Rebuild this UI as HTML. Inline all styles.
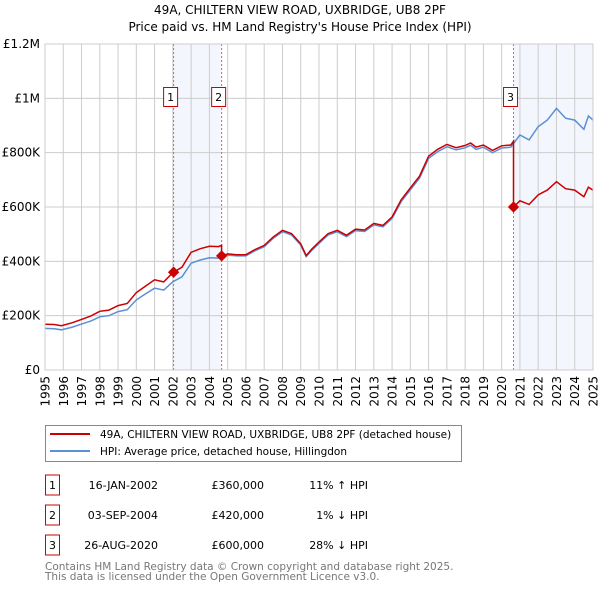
<!DOCTYPE html>
<html><head><meta charset="utf-8"><style>
body{margin:0;background:#fff;width:600px;height:590px;overflow:hidden;font-family:"DejaVu Sans","Liberation Sans",sans-serif;}
svg text{font-family:"DejaVu Sans","Liberation Sans",sans-serif;}
</style></head><body>
<svg id="chart" width="600" height="590" xmlns="http://www.w3.org/2000/svg">
<text x="300" y="14" text-anchor="middle" font-size="12" fill="#000">49A, CHILTERN VIEW ROAD, UXBRIDGE, UB8 2PF</text>
<text x="300" y="31" text-anchor="middle" font-size="12" fill="#000">Price paid vs. HM Land Registry's House Price Index (HPI)</text>
<g id="plot"></g>
<g>
<rect x="45.5" y="425.5" width="416" height="36" fill="#fff" stroke="#888"/>
<line x1="50" y1="434" x2="90" y2="434" stroke="#cc0000" stroke-width="2"/>
<text x="100" y="438" font-size="10.5">49A, CHILTERN VIEW ROAD, UXBRIDGE, UB8 2PF (detached house)</text>
<line x1="50" y1="451" x2="90" y2="451" stroke="#5b8fd6" stroke-width="2"/>
<text x="100" y="455" font-size="10.5">HPI: Average price, detached house, Hillingdon</text>
</g>
<g id="table" font-size="11"></g>
<text x="45" y="570" font-size="10.5" fill="#777">Contains HM Land Registry data © Crown copyright and database right 2025.</text>
<text x="45" y="580" font-size="10.5" fill="#777">This data is licensed under the Open Government Licence v3.0.</text>
</svg>
<script>
const hpiDates=[1995,1995.5,1995.9,1996.5,1997,1997.5,1998,1998.5,1999,1999.5,2000,2000.5,2001,2001.5,2002,2002.5,2003,2003.5,2004,2004.5,2005,2005.5,2006,2006.5,2007,2007.5,2008,2008.5,2009,2009.3,2009.6,2010,2010.5,2011,2011.5,2012,2012.5,2013,2013.5,2014,2014.5,2015,2015.5,2016,2016.5,2017,2017.5,2018,2018.3,2018.6,2019,2019.5,2020,2020.5,2021,2021.5,2022,2022.5,2023,2023.5,2024,2024.5,2024.75,2025];
const hpiValues=[153,152,148,158,169,180,196,200,215,222,258,280,301,294,325,343,393,405,413,412,423,420,420,439,454,485,509,497,460,417,440,466,497,509,491,513,510,534,527,558,620,663,706,779,804,822,810,818,827,812,820,800,817,820,865,847,896,920,963,927,920,886,935,920];
const saleDates=[2002.04,2004.67,2020.65];
const salePrices=[360,420,600];
const saleLabels=["16-JAN-2002","03-SEP-2004","26-AUG-2020"];
const salePriceText=["£360,000","£420,000","£600,000"];
const saleHpiText=["11% ↑ HPI","1% ↓ HPI","28% ↓ HPI"];
const yTicks=[0,200,400,600,800,1000,1200];
const yTickLabels=["£0","£200K","£400K","£600K","£800K","£1M","£1.2M"];
const xYears=[1995,1996,1997,1998,1999,2000,2001,2002,2003,2004,2005,2006,2007,2008,2009,2010,2011,2012,2013,2014,2015,2016,2017,2018,2019,2020,2021,2022,2023,2024,2025];

const NS="http://www.w3.org/2000/svg";
const X0=45,X1=593,Y0=370,Y1=44;
const xs=t=>X0+(t-1995)/30*(X1-X0);
const ys=v=>Y0-v/1200*(Y0-Y1);
const plot=document.getElementById('plot');
function mk(tag,attrs,parent){const e=document.createElementNS(NS,tag);for(const k in attrs)e.setAttribute(k,attrs[k]);(parent||plot).appendChild(e);return e;}
function hpiAt(t){for(let i=1;i<hpiDates.length;i++){if(t<=hpiDates[i]){const a=hpiDates[i-1],b=hpiDates[i];return hpiValues[i-1]+(hpiValues[i]-hpiValues[i-1])*(t-a)/(b-a);}}return hpiValues[hpiValues.length-1];}

const shadeStarts=[saleDates[0],saleDates[2]];
const shadeEnds=[saleDates[1],2025];
for(let i=0;i<shadeStarts.length;i++){
 const r=mk('rect',{x:xs(shadeStarts[i]),y:Y1,width:xs(shadeEnds[i])-xs(shadeStarts[i]),height:Y0-Y1,fill:'#f3f6fd'});
 
 
}
yTicks.forEach((v,i)=>{
 const l=mk('line',{x1:X0,x2:X1,y1:ys(v),y2:ys(v),stroke:'#ccc','stroke-width':1});
 
 
 const t=mk('text',{x:40,y:ys(v)+4,'text-anchor':'end','font-size':12});
 
 
 t.textContent=yTickLabels[i];
});
xYears.forEach(yr=>{
 const l=mk('line',{x1:xs(yr),x2:xs(yr),y1:Y1,y2:Y0,stroke:'#ccc','stroke-width':1});
 
 
 const t=mk('text',{x:0,y:0,'text-anchor':'end','font-size':12,transform:`translate(${xs(yr)+4.5},376) rotate(-90)`});
 
 
 t.textContent=yr;
});
saleDates.forEach((d,i)=>{
 const l=mk('line',{x1:xs(d),x2:xs(d),y1:Y1,y2:Y0,stroke:'#e06060','stroke-width':1,'stroke-dasharray':'2,2'});
 
 
});
const hp=hpiDates.map((d,i)=>xs(d).toFixed(1)+','+ys(hpiValues[i]).toFixed(1)).join(' ');
const hl=mk('polyline',{points:hp,fill:'none',stroke:'#5b8fd6','stroke-width':1.5});


const ratios=saleDates.map((d,i)=>salePrices[i]/hpiAt(d));
const pts=[];
let si=0;
hpiDates.forEach((d,i)=>{
 while(si<saleDates.length&&saleDates[si]<=d){
  const sd=saleDates[si];
  if(si>0)pts.push([sd,hpiAt(sd)*ratios[si-1]]);
  pts.push([sd,salePrices[si]]);
  si++;
 }
 const r=ratios[Math.max(0,si-1)];
 pts.push([d,hpiValues[i]*r]);
});
const pl=mk('polyline',{points:pts.map(p=>xs(p[0]).toFixed(1)+','+ys(p[1]).toFixed(1)).join(' '),fill:'none',stroke:'#cc0000','stroke-width':1.5});


saleDates.forEach((d,i)=>{
 const x=xs(d),y=ys(salePrices[i]);
 const m=mk('rect',{x:x-4,y:y-4,width:8,height:8,fill:'#cc0000',transform:`rotate(45 ${x} ${y})`});
 
 
 const b=mk('rect',{x:x-10,y:87.5,width:14,height:19,fill:'#fff',stroke:'#cc0000'});
 
 
 const t=mk('text',{x:x-3,y:101,'text-anchor':'middle','font-size':11});
 
 
 t.textContent=i+1;
});
const ax=mk('rect',{x:X0,y:Y1,width:X1-X0,height:Y0-Y1,fill:'none',stroke:'#ccc'});


const tb=document.getElementById('table');
saleDates.forEach((d,i)=>{
 const yy=483+i*30;
 const b=mk('rect',{x:45.5,y:yy-8,width:14,height:20,fill:'#fff',stroke:'#cc0000'},tb);
 
 
 const n=mk('text',{x:52.5,y:yy+6,'text-anchor':'middle'},tb);
 
 
 n.textContent=i+1;
 const a=mk('text',{x:158,y:yy+6,'text-anchor':'end'},tb);
 
 
 a.textContent=saleLabels[i];
 const p=mk('text',{x:264,y:yy+6,'text-anchor':'end'},tb);
 
 
 p.textContent=salePriceText[i];
 const h=mk('text',{x:368,y:yy+6,'text-anchor':'end'},tb);
 
 
 h.textContent=saleHpiText[i];
});
</script>
</body></html>
